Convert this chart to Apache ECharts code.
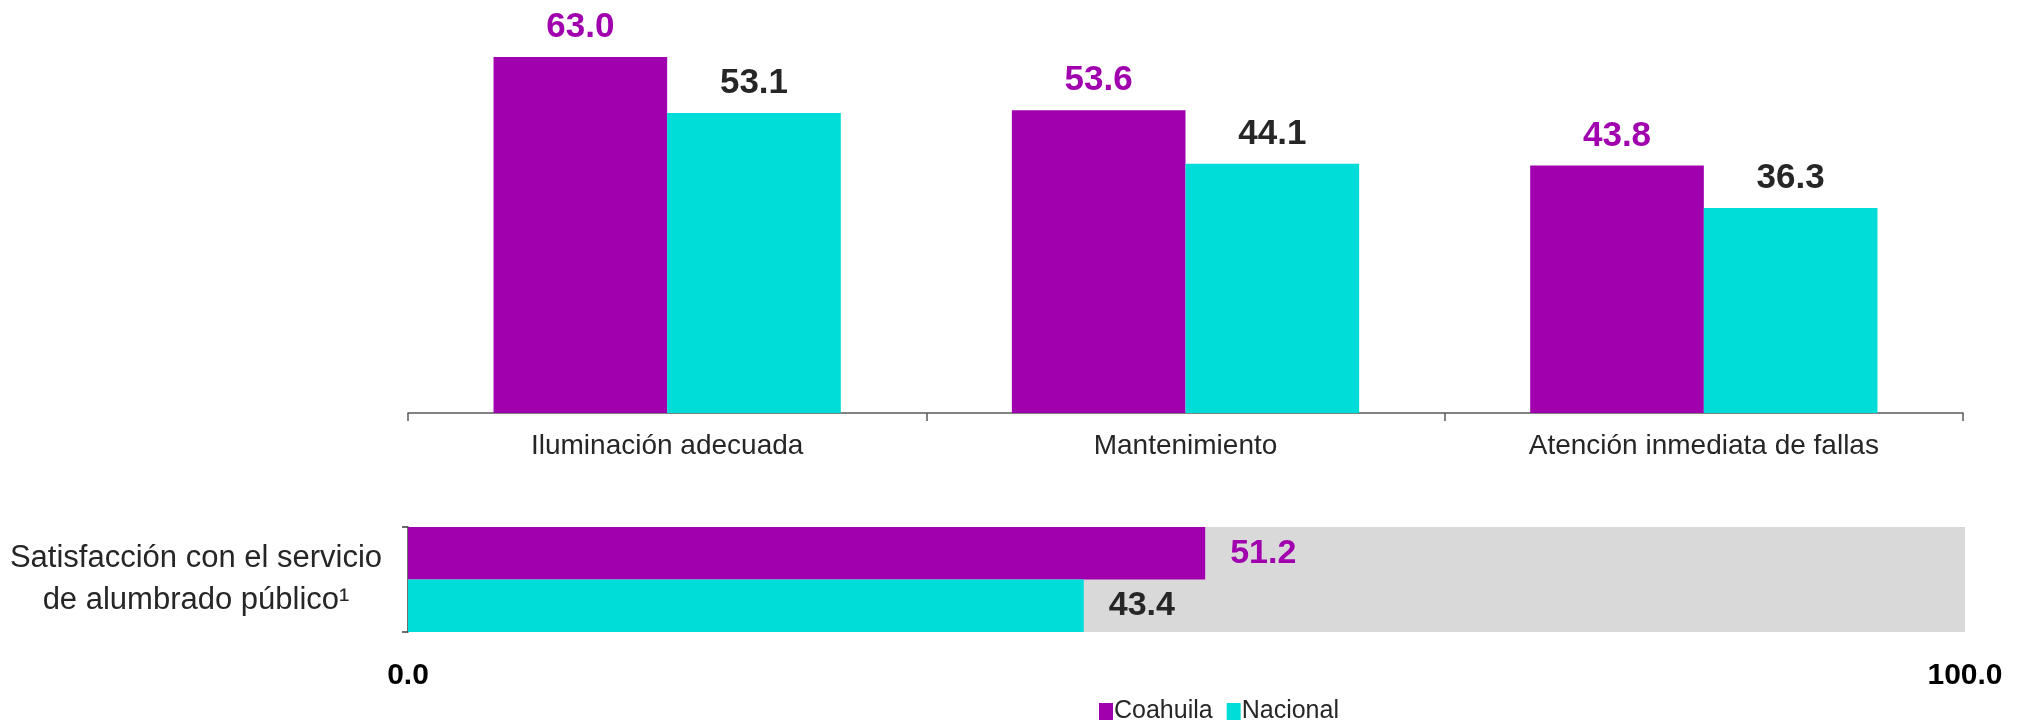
<!DOCTYPE html>
<html>
<head>
<meta charset="utf-8">
<script src="https://cdn.jsdelivr.net/npm/echarts@6/dist/echarts.min.js"></script>
<style>html,body{margin:0;padding:0;background:#fff}#c{width:2026px;height:721px}</style>
</head>
<body>
<div id="c"></div>
<script>
const categories = ['Iluminación adecuada', 'Mantenimiento', 'Atención inmediata de fallas'];
const coahuila = [63.0, 53.6, 43.8];
const nacional = [53.1, 44.1, 36.3];
const satisfCategory = ['Satisfacción con el servicio\nde alumbrado público¹'];
const satisfCoahuila = [51.2];
const satisfNacional = [43.4];
const seriesNames = ['Coahuila', 'Nacional'];

const PURPLE = '#A000AE';
const CYAN = '#00DCD8';
const DARK = '#262626';
const FONT = '"Liberation Sans", Arial, sans-serif';

const chart = echarts.init(document.getElementById('c'));
chart.setOption({
  animation: false,
  textStyle: { fontFamily: FONT },
  legend: {
    data: seriesNames,
    left: 1094, top: 694,
    icon: 'rect', itemWidth: 14, itemHeight: 17, itemGap: 14,
    textStyle: { fontSize: 25, color: DARK, fontFamily: FONT, padding: [0, 0, 0, -4] }
  },
  grid: [
    { left: 408, right: 63, top: 17.5, height: 395.5 },
    { left: 408, right: 61, top: 527, height: 105 }
  ],
  xAxis: [
    {
      type: 'category', gridIndex: 0, data: categories,
      axisLine: { lineStyle: { color: '#595959', width: 1.5 } },
      axisTick: { show: true, length: 8, lineStyle: { color: '#595959', width: 1.5 } },
      axisLabel: { fontSize: 28, color: DARK, margin: 19, fontFamily: FONT }
    },
    {
      type: 'value', gridIndex: 1, min: 0, max: 100, interval: 100,
      axisLine: { show: false }, axisTick: { show: false }, splitLine: { show: false },
      axisLabel: { fontSize: 30, fontWeight: 'bold', color: '#000', margin: 29, fontFamily: FONT,
        formatter: v => v.toFixed(1) }
    }
  ],
  yAxis: [
    { type: 'value', gridIndex: 0, min: 0, max: 70, show: false },
    {
      type: 'category', gridIndex: 1, data: satisfCategory, inverse: true,
      axisLine: { show: true, lineStyle: { color: '#404040', width: 1.5 } },
      axisTick: { show: true, length: 6, lineStyle: { color: '#404040', width: 1.5 } },
      axisLabel: { fontSize: 31, color: DARK, align: 'center', margin: 212, lineHeight: 42,
        padding: [12, 0, 0, 0], fontFamily: FONT }
    }
  ],
  series: [
    {
      name: seriesNames[0], type: 'bar', xAxisIndex: 0, yAxisIndex: 0, data: coahuila,
      barGap: '0%', barCategoryGap: '33%',
      itemStyle: { color: PURPLE },
      label: { show: true, position: 'top', distance: 12, fontSize: 35, fontWeight: 'bold', color: PURPLE,
        fontFamily: FONT, formatter: p => p.value.toFixed(1) }
    },
    {
      name: seriesNames[1], type: 'bar', xAxisIndex: 0, yAxisIndex: 0, data: nacional,
      barGap: '0%', barCategoryGap: '33%',
      itemStyle: { color: CYAN },
      label: { show: true, position: 'top', distance: 12, fontSize: 35, fontWeight: 'bold', color: DARK,
        fontFamily: FONT, formatter: p => p.value.toFixed(1) }
    },
    {
      name: seriesNames[0], type: 'bar', xAxisIndex: 1, yAxisIndex: 1, data: satisfCoahuila,
      barGap: '0%', barCategoryGap: '0%', z: 3,
      itemStyle: { color: PURPLE },
      label: { show: true, position: 'right', distance: 25, fontSize: 34, fontWeight: 'bold', color: PURPLE,
        fontFamily: FONT, formatter: p => p.value.toFixed(1) },
      markArea: { silent: true, itemStyle: { color: '#D9D9D9' },
        data: [[{ xAxis: 0 }, { xAxis: 100 }]] }
    },
    {
      name: seriesNames[1], type: 'bar', xAxisIndex: 1, yAxisIndex: 1, data: satisfNacional,
      barGap: '0%', barCategoryGap: '0%', z: 3,
      itemStyle: { color: CYAN },
      label: { show: true, position: 'right', distance: 25, fontSize: 34, fontWeight: 'bold', color: DARK,
        fontFamily: FONT, formatter: p => p.value.toFixed(1) }
    }
  ]
});
</script>
</body>
</html>
